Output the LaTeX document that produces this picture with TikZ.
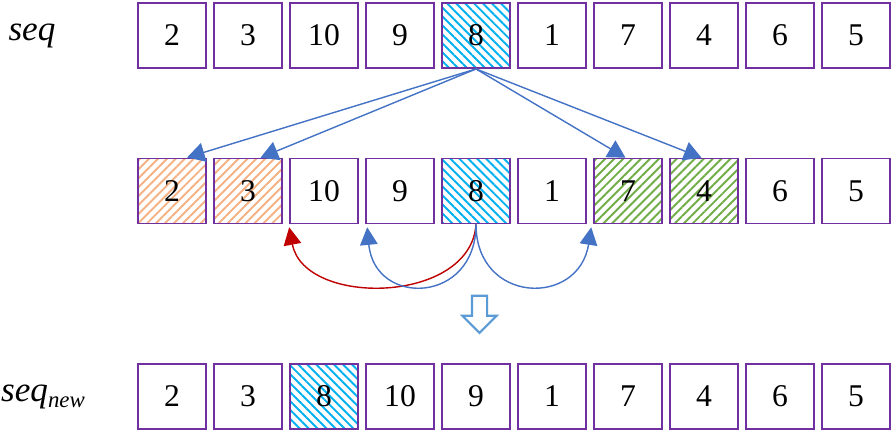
\documentclass[tikz,border=0pt]{standalone}
\usepackage{fontspec}
\setmainfont{Liberation Serif}
\usetikzlibrary{arrows.meta,patterns.meta,shapes.arrows}
\definecolor{boxpurple}{HTML}{7030A0}
\definecolor{linkblue}{HTML}{4472C4}
\definecolor{movered}{HTML}{C00000}
\definecolor{hatchorange}{HTML}{F4B183}
\definecolor{hatchblue}{HTML}{00B0F0}
\definecolor{hatchgreen}{HTML}{70AD47}
\definecolor{hollowblue}{HTML}{5B9BD5}

\begin{document}
\begin{tikzpicture}[
  cell/.style={draw=boxpurple, line width=0.9pt, minimum width=1.36cm, minimum height=1.3cm,
    inner sep=0pt, font=\fontsize{18}{20}\selectfont},
  pivot/.style={cell, pattern={Lines[angle=-45,distance=3.6pt,line width=1.1pt]}, pattern color=hatchblue},
  orangecell/.style={cell, pattern={Lines[angle=45,distance=3.6pt,line width=1.1pt]}, pattern color=hatchorange},
  greencell/.style={cell, pattern={Lines[angle=45,distance=3.6pt,line width=1.1pt]}, pattern color=hatchgreen},
  seqlabel/.style={font=\fontsize{20}{22}\selectfont\itshape},
  link/.style={linkblue, line width=0.8pt, -{Triangle[length=10pt,width=11pt]}},
  move/.style={line width=0.8pt, -{Triangle[length=10pt,width=10pt]}}
]
  \useasboundingbox (0,0) rectangle (17.92,8.66);

  % original sequence
  \node[seqlabel] (seq) at (0.64,7.95) {seq};
  \foreach \v/\st [count=\i] in {2/cell,3/cell,10/cell,9/cell,8/pivot,1/cell,7/cell,4/cell,6/cell,5/cell}
    \node[\st] (s\i) at ({3.44+1.52*(\i-1)},7.95) {\v};

  % sequence while moving
  \foreach \v/\st [count=\i] in {2/orangecell,3/orangecell,10/cell,9/cell,8/pivot,1/cell,7/greencell,4/greencell,6/cell,5/cell}
    \node[\st] (m\i) at ({3.44+1.52*(\i-1)},4.84) {\v};

  % new sequence
  \node[seqlabel] (seqnew) at (0.86,0.73) {seq{\fontsize{13}{14}\selectfont\raisebox{-0.3em}{new}}};
  \foreach \v/\st [count=\i] in {2/cell,3/cell,8/pivot,10/cell,9/cell,1/cell,7/cell,4/cell,6/cell,5/cell}
    \node[\st] (n\i) at ({3.44+1.52*(\i-1)},0.73) {\v};

  % links from the pivot
  \draw[link] (s5.south) -- ([xshift=0.3cm]m1.north);
  \draw[link] (s5.south) -- ([xshift=0.25cm]m2.north);
  \draw[link] (s5.south) -- ([xshift=-0.05cm]m7.north);
  \draw[link] (s5.south) -- ([xshift=-0.05cm]m8.north);

  % moves below the row
  \draw[move, movered] (m5.south) .. controls +(-0.1,-1.6) and +(0.3,-1.6) .. ([yshift=-0.06cm]m3.south west);
  \draw[move, linkblue] (m5.south) .. controls +(0,-1.6) and +(0.15,-1.6) .. ([xshift=0.04cm,yshift=-0.06cm]m4.south west);
  \draw[move, linkblue] (m5.south) .. controls +(0,-1.6) and +(-0.25,-1.6) .. ([xshift=-0.04cm,yshift=-0.06cm]m7.south west);

  % hollow arrow down
  \node[single arrow, draw=hollowblue, line width=1.2pt, fill=white, shape border rotate=270,
    inner sep=0.13cm, single arrow head extend=0.19cm, minimum height=0.74cm] (down) at (9.59,2.45) {};
\end{tikzpicture}
\end{document}
